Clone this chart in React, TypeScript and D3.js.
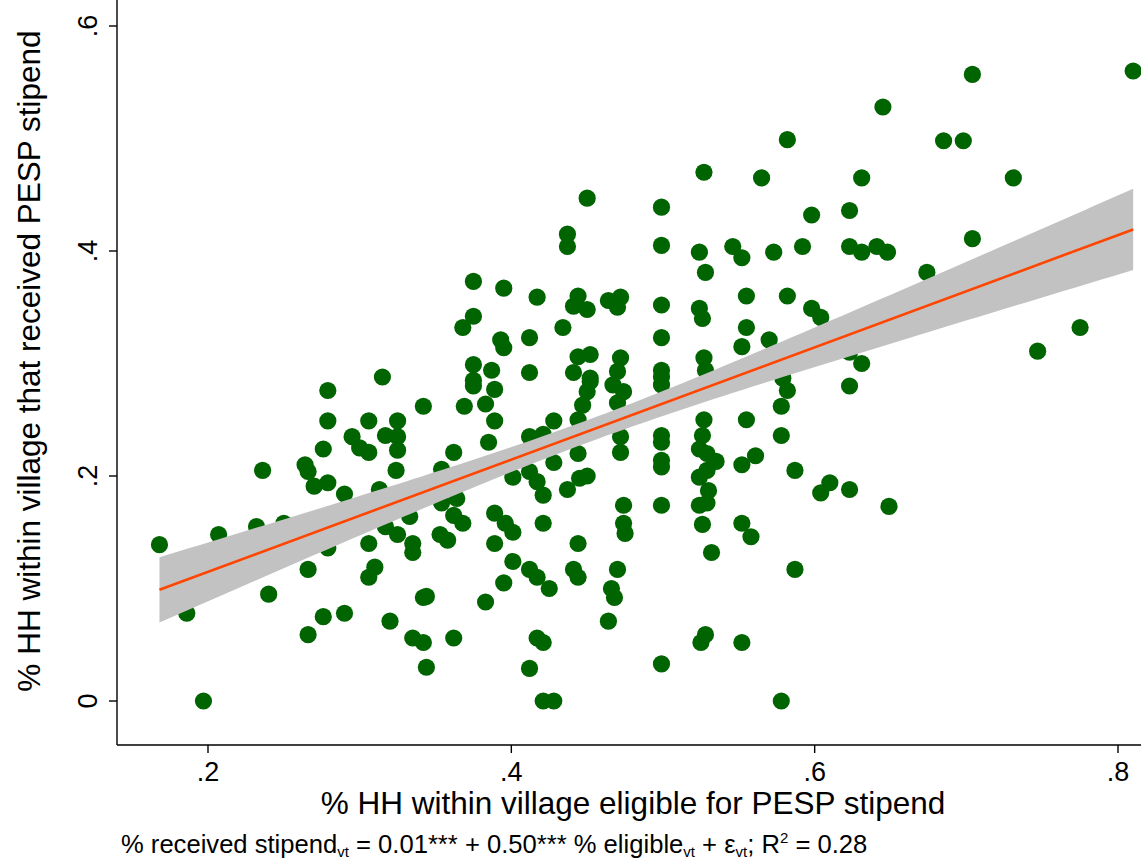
import React from 'react';
import * as d3 from 'd3';

// % HH within village eligible for PESP stipend (x)
const eligible: number[] = [
  0.168,0.186,0.197,0.207,0.232,0.236,0.250,0.240,0.264,0.266,
  0.270,0.279,0.276,0.279,0.279,0.306,0.295,0.300,0.306,0.290,
  0.313,0.315,0.317,0.306,0.279,0.317,0.266,0.310,0.306,0.276,
  0.290,0.266,0.320,
  0.450,0.437,0.437,0.375,0.395,0.417,0.444,0.441,0.450,0.464,
  0.472,0.470,0.375,0.368,0.434,0.393,0.395,0.412,0.375,0.387,
  0.412,0.444,0.452,0.441,0.472,0.470,0.452,0.375,
  0.375,0.389,0.452,0.450,0.467,0.474,0.342,0.369,0.383,0.447,
  0.470,0.325,0.389,0.428,0.444,0.325,0.325,0.385,0.412,0.421,
  0.472,0.472,0.444,0.362,0.324,0.354,0.412,0.417,0.421,0.428,
  0.445,0.450,0.437,0.401,0.354,0.364,0.333,0.362,0.368,0.389,
  0.396,0.401,0.421,0.474,0.474,0.475,0.325,0.353,0.358,0.335,
  0.389,0.444,
  0.335,0.401,0.412,0.417,0.425,0.441,0.444,0.470,0.395,0.466,
  0.468,0.342,0.344,0.383,0.335,0.342,0.362,0.417,0.421,0.464,
  0.344,0.412,0.421,0.428,
  0.645,0.582,0.527,0.565,0.631,0.499,0.598,0.623,0.499,0.524,
  0.546,0.552,0.573,0.592,0.623,0.631,0.641,0.648,0.528,0.555,
  0.582,
  0.499,0.524,0.526,0.598,0.604,0.499,0.555,0.552,0.570,0.527,
  0.528,0.499,0.499,0.499,0.623,0.631,0.623,0.579,0.582,0.578,
  0.555,0.578,0.527,0.526,0.499,0.499,0.524,0.529,0.535,0.499,
  0.499,0.561,0.552,0.529,0.524,0.530,0.587,0.610,0.604,0.623,
  0.499,0.524,0.529,0.526,0.552,0.558,0.532,0.587,0.649,0.528,
  0.525,0.552,0.499,0.578,
  0.810,0.704,0.685,0.698,0.731,0.704,0.674,0.775,0.747,
];

// % HH within village that received PESP stipend (y)
const received: number[] = [
  0.139,0.078,0.000,0.148,0.155,0.205,0.158,0.095,0.210,0.204,
  0.191,0.194,0.224,0.276,0.249,0.249,0.235,0.225,0.221,0.184,
  0.188,0.288,0.236,0.140,0.136,0.155,0.117,0.119,0.110,0.075,
  0.078,0.059,0.071,
  0.447,0.415,0.404,0.373,0.367,0.359,0.360,0.351,0.348,0.356,
  0.359,0.350,0.342,0.332,0.332,0.321,0.314,0.323,0.299,0.294,
  0.292,0.306,0.308,0.292,0.305,0.293,0.287,0.285,
  0.280,0.277,0.284,0.275,0.281,0.275,0.262,0.262,0.264,0.263,
  0.265,0.249,0.249,0.249,0.250,0.235,0.223,0.230,0.235,0.237,
  0.235,0.221,0.220,0.221,0.205,0.206,0.204,0.195,0.183,0.212,
  0.198,0.200,0.188,0.199,0.176,0.180,0.164,0.165,0.158,0.167,
  0.158,0.150,0.158,0.174,0.158,0.149,0.148,0.148,0.143,0.140,
  0.140,0.140,
  0.132,0.124,0.117,0.110,0.100,0.117,0.110,0.117,0.105,0.100,
  0.092,0.092,0.093,0.088,0.056,0.052,0.056,0.056,0.052,0.071,
  0.030,0.029,0.000,0.000,
  0.528,0.499,0.470,0.465,0.465,0.439,0.432,0.436,0.405,0.399,
  0.404,0.394,0.399,0.404,0.404,0.399,0.404,0.399,0.381,0.360,
  0.360,
  0.352,0.349,0.340,0.349,0.341,0.323,0.332,0.315,0.321,0.305,
  0.294,0.294,0.288,0.281,0.310,0.300,0.280,0.287,0.276,0.262,
  0.250,0.236,0.250,0.236,0.236,0.230,0.224,0.220,0.213,0.214,
  0.208,0.218,0.210,0.205,0.199,0.187,0.205,0.194,0.185,0.188,
  0.174,0.174,0.176,0.157,0.158,0.146,0.132,0.117,0.173,0.059,
  0.052,0.052,0.033,0.000,
  0.560,0.557,0.498,0.498,0.465,0.411,0.381,0.332,0.311,
];

const xTicks: number[] = [0.2, 0.4, 0.6, 0.8];
const xTickLabels: string[] = ['.2', '.4', '.6', '.8'];
const yTicks: number[] = [0, 0.2, 0.4, 0.6];
const yTickLabels: string[] = ['0', '.2', '.4', '.6'];

// fitted line and 95% CI
const fitIntercept = 0.015;
const fitSlope = 0.499;
const ciMeanX = 0.450;
const ciHalfAtMean = 0.010;
const ciSlopeSe = 0.0964;

const W = 1141;
const H = 859;
const FONT = '"Liberation Sans", Arial, Helvetica, sans-serif';

export default function App() {
  const x = d3.scaleLinear().domain([0.2, 0.8]).range([208, 1118]);
  const y = d3.scaleLinear().domain([0, 0.6]).range([701, 26]);

  const plotLeft = 117;
  const plotBottom = 745;

  const [xmin, xmax] = d3.extent(eligible) as [number, number];
  const samples = d3.range(0, 101).map((i) => xmin + ((xmax - xmin) * i) / 100);
  const fit = (v: number) => fitIntercept + fitSlope * v;
  const half = (v: number) =>
    Math.sqrt(ciHalfAtMean * ciHalfAtMean + Math.pow(ciSlopeSe * (v - ciMeanX), 2));

  const band = d3
    .area<number>()
    .x((v) => x(v))
    .y0((v) => y(fit(v) - half(v)))
    .y1((v) => y(fit(v) + half(v)))(samples) as string;

  const line = d3
    .line<number>()
    .x((v) => x(v))
    .y((v) => y(fit(v)))([xmin, xmax]) as string;

  return (
    <svg
      width={W}
      height={H}
      viewBox={`0 0 ${W} ${H}`}
      style={{ position: 'absolute', left: 0, top: 0, background: '#fff' }}
      fontFamily={FONT}
    >
      <rect x={0} y={0} width={W} height={H} fill="#ffffff" />
      {/* points */}
      <g>
        {eligible.map((v, i) => (
          <circle key={i} cx={x(v)} cy={y(received[i])} r={8.6} fill="#006400" />
        ))}
      </g>
      {/* CI band and fit */}
      <path d={band} fill="#c2c2c2" stroke="none" />
      <path d={line} fill="none" stroke="#ff4500" strokeWidth={2.6} />

      {/* axes */}
      <line x1={plotLeft} x2={plotLeft} y1={0} y2={plotBottom} stroke="#000" strokeWidth={1.4} />
      <line x1={plotLeft} x2={W} y1={plotBottom} y2={plotBottom} stroke="#000" strokeWidth={1.4} />

      {yTicks.map((t, i) => (
        <g key={'yt' + i}>
          <line x1={plotLeft - 8} x2={plotLeft} y1={y(t)} y2={y(t)} stroke="#000" strokeWidth={1.4} />
          <text
            transform={`translate(${plotLeft - 20}, ${y(t)}) rotate(-90)`}
            textAnchor="middle"
            fontSize={27}
            fill="#000"
          >
            {yTickLabels[i]}
          </text>
        </g>
      ))}

      {xTicks.map((t, i) => (
        <g key={'xt' + i}>
          <line x1={x(t)} x2={x(t)} y1={plotBottom} y2={plotBottom + 8} stroke="#000" strokeWidth={1.4} />
          <text x={x(t)} y={781} textAnchor="middle" fontSize={27} fill="#000">
            {xTickLabels[i]}
          </text>
        </g>
      ))}

      <text x={633} y={814} textAnchor="middle" fontSize={31.5} fill="#000">
        % HH within village eligible for PESP stipend
      </text>
      <text transform="translate(40, 361) rotate(-90)" textAnchor="middle" fontSize={31.5} fill="#000">
        % HH within village that received PESP stipend
      </text>

      <text x={121} y={853} fontSize={25.6} fill="#000">
        % received stipend
        <tspan fontSize={15} dy={4}>vt</tspan>
        <tspan dy={-4}> = 0.01*** + 0.50*** % eligible</tspan>
        <tspan fontSize={15} dy={4}>vt</tspan>
        <tspan dy={-4}> + ε</tspan>
        <tspan fontSize={15} dy={4}>vt</tspan>
        <tspan dy={-4}>; R</tspan>
        <tspan fontSize={15} dy={-10}>2</tspan>
        <tspan dy={10}> = 0.28</tspan>
      </text>
    </svg>
  );
}
